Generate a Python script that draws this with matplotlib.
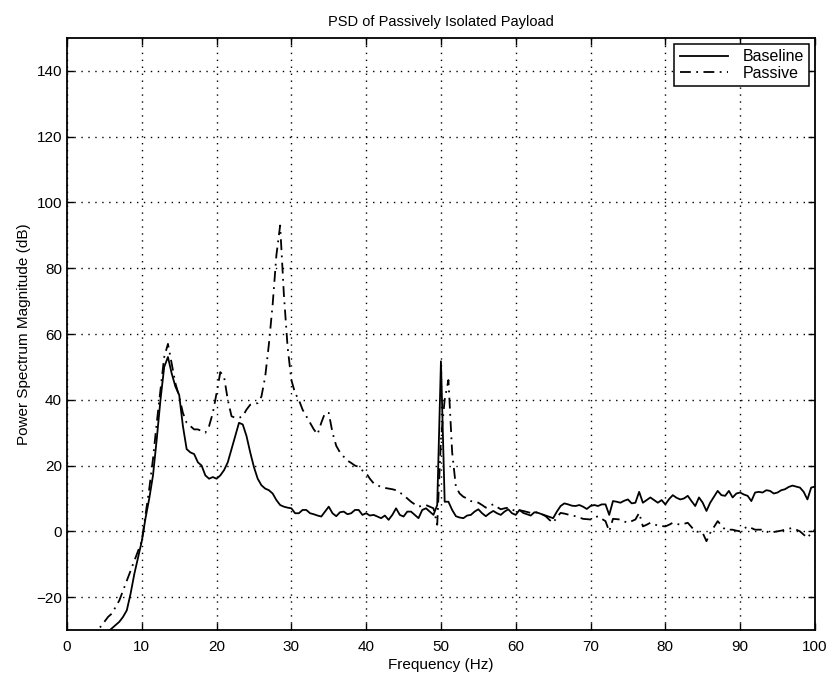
import numpy as np
import matplotlib
matplotlib.use("Agg")
import matplotlib.pyplot as plt

plt.rcParams['font.family'] = ['Liberation Sans', 'DejaVu Sans']

freq = [i * 0.5 for i in range(201)]

baseline = [
    -40, -40, -40, -40, -40, -40, -40, -40, -38, -36,
    -33, -30.5, -29.5, -28.5, -27.5, -26, -24, -19, -13, -8,
    -3, 4, 10, 17, 28, 40, 50, 53, 48, 44,
    41.5, 32, 25, 24, 23.5, 21, 20, 17, 16, 16.5,
    16, 17, 18.6, 21, 25, 29, 33, 32.5, 29, 24,
    19.5, 16, 14, 13, 12.5, 11.5, 9.5, 8, 7.5, 7.2,
    7, 5.5, 5.5, 6.5, 6.5, 5.5, 5.2, 4.8, 4.5, 6,
    7.5, 5.5, 4.6, 5.8, 6, 5.2, 5.5, 6.5, 6.5, 5,
    5.5, 4.8, 5, 4.5, 4, 4.8, 3.5, 5, 7, 5,
    4.5, 6, 6, 5, 4, 6.5, 7, 6, 5, 8,
    51.7, 9, 9, 6.5, 4.6, 4.2, 4, 4.8, 5, 6,
    6.7, 5.5, 4.6, 5.5, 6.2, 5.5, 5, 6, 6.7, 5.5,
    5, 6.5, 5.6, 5.2, 4.8, 5.8, 5.6, 5.2, 4.8, 4.4,
    4, 6, 7.7, 8.5, 8.2, 7.8, 7.7, 8, 7.5, 6.8,
    7.7, 8, 7.7, 8.2, 8.2, 5, 9.2, 9, 8.7, 9.3,
    9.7, 8.5, 8.7, 12, 8.7, 9.5, 10.3, 9.5, 8.7, 9.5,
    8.2, 9.8, 11, 10.2, 9.7, 10, 10.8, 9.2, 7.7, 10.3,
    8.7, 6.2, 8.7, 10.5, 12.3, 11, 10.8, 12.3, 10.3, 11.5,
    11.8, 11.2, 10.8, 9.2, 11.8, 12, 11.8, 12.5, 12.3, 11.5,
    11.8, 12.5, 12.8, 13.5, 13.9, 13.6, 13.3, 12, 9.7, 13.3,
    13.6,
]

passive = [
    -40, -40, -40, -40, -40, -40, -40, -40, -30, -29,
    -27.5, -26, -25, -23, -21, -18, -15, -12, -9, -6,
    -3, 5, 13, 22, 33, 43, 53, 57, 51, 45,
    41, 36, 33, 32, 31, 31, 30.5, 30, 32, 36,
    42, 48.4, 47, 40, 35, 34.5, 34.5, 35, 37, 38.5,
    38.7, 39, 41, 47, 57, 69, 84, 93, 72, 56,
    46, 42, 40, 37, 35, 33, 31, 29.5, 33, 36,
    36, 30, 26, 24, 22.7, 21.5, 20.8, 20, 19.6, 18.5,
    17.7, 16, 14.6, 14, 13.5, 13.2, 13, 12.8, 12.5, 11.8,
    11, 10, 9, 8.2, 7.5, 7.8, 8, 7.5, 7, 2,
    28, 40, 46, 24, 13.5, 11.5, 10.5, 10, 9.2, 9,
    8.7, 8, 7.2, 7.8, 8.2, 7.4, 6.7, 7, 7.2, 6.6,
    6.2, 6.4, 6.2, 5.9, 5.6, 5.8, 5.8, 5.2, 4.6, 3.5,
    2.6, 4.3, 5.6, 5.4, 5.1, 4.8, 4.6, 4.2, 3.8, 3.7,
    3.6, 4.1, 4.6, 3.8, 3.1, 0, 3.8, 3.7, 3.6, 3,
    2.6, 3.1, 3.6, 5.6, 1.5, 2, 2.6, 2.2, 1.7, 1.6,
    1.5, 2, 2.6, 2.3, 2, 2.3, 2.6, 1.3, 0, -0.2,
    -0.5, -3, -0.5, 1.3, 3.1, 1.8, 0.5, 0.5, 0.5, 0.2,
    0, 0.8, 1.5, 1, 0.5, 0.5, 0.5, 0, -0.5, -0.2,
    0, 0.2, 0.5, 0.8, 1, 0.5, 0, -1, -2, -0.5,
    0.5,
]

xticks = list(range(0, 101, 10))
yticks = list(range(-20, 141, 20))

fig = plt.figure(figsize=(8.29, 6.73), dpi=100)
ax = fig.add_axes([0.0808, 0.0639, 0.9022, 0.8796])

ax.plot(freq, baseline, color='black', lw=1.3, linestyle='-', label='Baseline')
ax.plot(freq, passive, color='black', lw=1.3, linestyle=(0, (6, 3, 1, 3)), label='Passive')

ax.set_xlim(0, 100)
ax.set_ylim(-30, 150)
ax.set_xticks(xticks)
ax.set_yticks(yticks)
ax.tick_params(direction='in', top=True, right=True, labelsize=11, length=5, width=1)
ax.tick_params(axis='x', pad=7)
ax.grid(True, color='black', linestyle=(0, (1, 4)), linewidth=1)
for s in ax.spines.values():
    s.set_linewidth(1.3)

ax.set_title('PSD of Passively Isolated Payload', fontsize=10.5, pad=9)
ax.set_xlabel('Frequency (Hz)', fontsize=11, labelpad=3)
ax.set_ylabel('Power Spectrum Magnitude (dB)', fontsize=11, labelpad=4)

leg = ax.legend(loc='upper right', fontsize=11.5, fancybox=False, framealpha=1,
                edgecolor='black', handlelength=3.0, borderaxespad=0.35,
                borderpad=0.35, labelspacing=0.1, handletextpad=0.9)
leg.get_frame().set_linewidth(1.1)

fig.savefig('out.png', dpi=100)
